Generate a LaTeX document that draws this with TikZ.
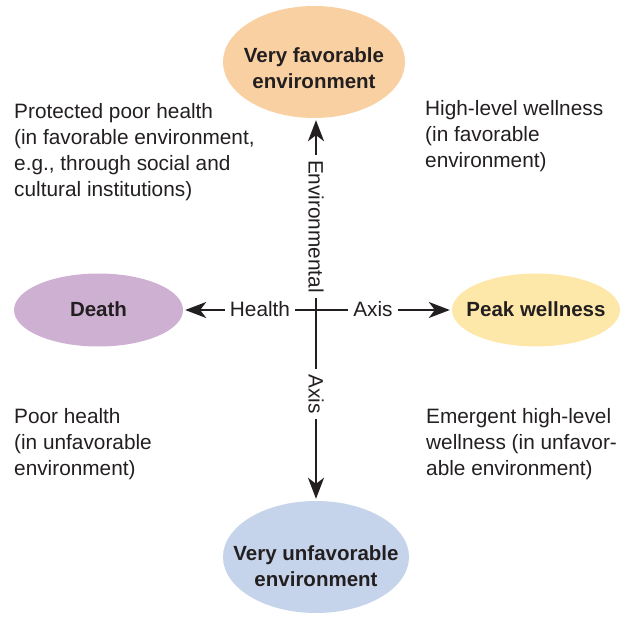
\documentclass[tikz,border=0pt]{standalone}
\usepackage{fontspec}
\setmainfont{Liberation Sans}
\usetikzlibrary{shapes.geometric,arrows.meta}
\definecolor{ink}{HTML}{231F20}
\definecolor{peach}{HTML}{F9D0A2}
\definecolor{lilac}{HTML}{CEB0D3}
\definecolor{butter}{HTML}{FDE8AA}
\definecolor{skyblue}{HTML}{C5D3EB}
\begin{document}
\begin{tikzpicture}[x=1pt,y=-1pt,
  oval/.style={ellipse, inner sep=0pt, draw=none},
  ovaltext/.style={font=\fontsize{20.5}{26}\selectfont\bfseries, text=ink, align=center, inner sep=0pt},
  note/.style={font=\fontsize{20.8}{26}\selectfont, text=ink, align=left, anchor=north west, inner sep=0pt},
  axislabel/.style={font=\fontsize{20.8}{26}\selectfont, text=ink, fill=white, inner xsep=5pt, inner ysep=3pt},
  axisline/.style={draw=ink, line width=2pt, shorten <=2pt, shorten >=2pt,
    {Stealth[length=21pt,width=16pt,inset=6pt]}-{Stealth[length=21pt,width=16pt,inset=6pt]}},
]
\useasboundingbox (0,0) rectangle (626,617);

% ovals
\node[oval, fill=peach, minimum width=182pt, minimum height=112pt] (top) at (314,62) {};
\node[oval, fill=skyblue, minimum width=186pt, minimum height=112pt] (bottom) at (316,557) {};
\node[oval, fill=lilac, minimum width=169pt, minimum height=73pt] (death) at (98.5,310) {};
\node[oval, fill=butter, minimum width=168pt, minimum height=73pt] (peak) at (536,310) {};

\node[ovaltext, anchor=north] (toptext) at (314,47) {Very favorable\\environment};
\node[ovaltext, anchor=north] (bottomtext) at (316,545) {Very unfavorable\\environment};
\node[ovaltext, anchor=base] (deathtext) at (98.5,316.7) {Death};
\node[ovaltext, anchor=base] (peaktext) at (536,316.7) {Peak wellness};

% axes
\draw[axisline] (bottom.north |- top.south) -- (bottom.north);
\draw[axisline] (death) -- (peak);

\node[axislabel] (health) at (260,309.5) {Health};
\node[axislabel] (haxis) at (373,309.5) {Axis};
\node[axislabel, rotate=-90] (env) at (316,226.5) {Environmental};
\node[axislabel, rotate=-90] (vaxis) at (316,394) {Axis};

% quadrant notes
\node[note] (q1) at (14,103) {Protected poor health\\(in favorable environment,\\e.g., through social and\\cultural institutions)};
\node[note] (q2) at (425,100.5) {High-level wellness\\(in favorable\\environment)};
\node[note] (q3) at (14,408) {Poor health\\(in unfavorable\\environment)};
\node[note] (q4) at (426,408) {Emergent high-level\\wellness (in unfavor-\\able environment)};
\end{tikzpicture}
\end{document}
